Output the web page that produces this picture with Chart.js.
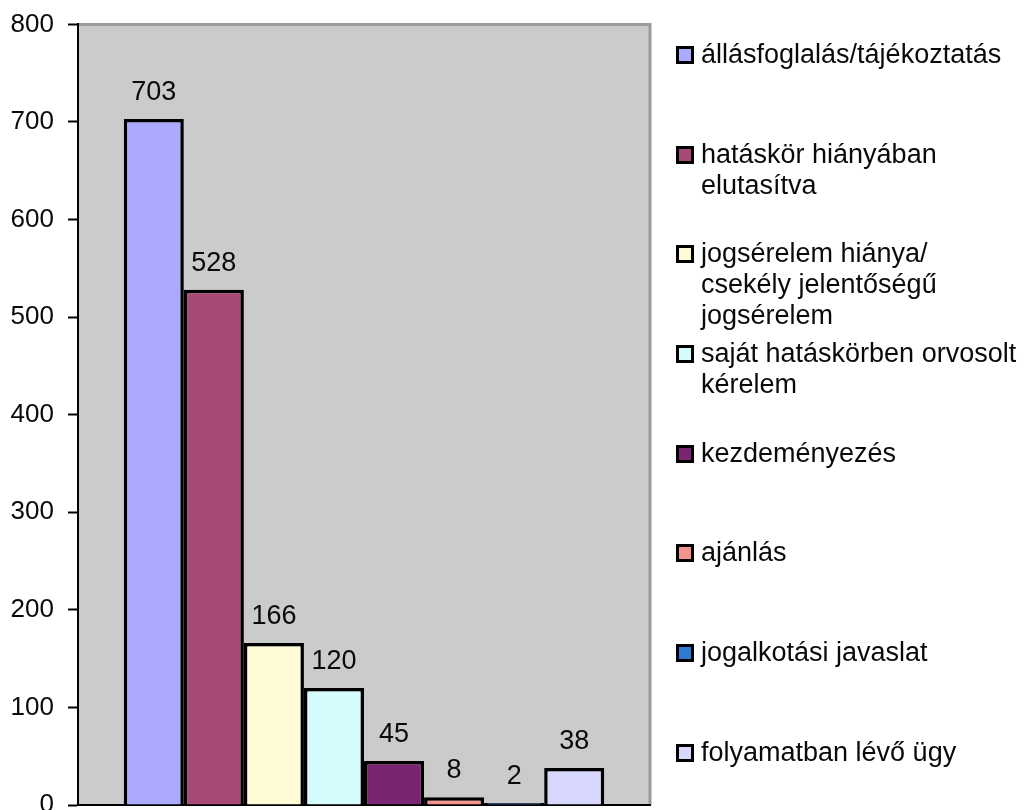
<!DOCTYPE html>
<html>
<head>
<meta charset="utf-8">
<script src="https://cdn.jsdelivr.net/npm/chart.js@4/dist/chart.umd.min.js"></script>
<style>
  html, body { margin: 0; padding: 0; background: #fff; overflow: hidden; }
  #wrap { position: relative; width: 1036px; height: 830px; }
  #legend { position: absolute; left: 676px; top: 39px; font-family: "Liberation Sans", Arial, sans-serif; font-size: 27px; color: #0a0a0a; }
  .item { position: relative; height: 99.7px; padding-left: 25px; line-height: 31px; white-space: pre; }
  .box { position: absolute; left: 0; top: 7px; width: 12px; height: 12px; border: 3px solid #000; }
</style>
</head>
<body>
<div id="wrap">
  <canvas id="chart" width="1036" height="830"></canvas>
  <div id="legend"></div>
</div>
<script>
const categories = [
  "állásfoglalás/tájékoztatás",
  "hatáskör hiányában\nelutasítva",
  "jogsérelem hiánya/\ncsekély jelentőségű\njogsérelem",
  "saját hatáskörben orvosolt\nkérelem",
  "kezdeményezés",
  "ajánlás",
  "jogalkotási javaslat",
  "folyamatban lévő ügy"
];
const values = [703, 528, 166, 120, 45, 8, 2, 38];
const colors = ["#AAAAFF", "#A84A78", "#FFFBD6", "#D4FCFC", "#7A2472", "#F2948C", "#2E7AD4", "#D8D8FF"];
const yTicks = { min: 0, max: 800, step: 100 };

(function() {
    const ctx = document.getElementById("chart");

    const plotBg = {
        id: 'plotBg',
        beforeDraw(chart) {
            const a = chart.chartArea, c = chart.ctx;
            c.save();
            c.fillStyle = '#CBCBCB';
            c.fillRect(a.left, a.top, a.right - a.left, a.bottom - a.top);
            c.strokeStyle = '#9A9A9A';
            c.lineWidth = 3;
            c.beginPath();
            c.moveTo(a.left, a.top);
            c.lineTo(a.right, a.top);
            c.lineTo(a.right, a.bottom);
            c.stroke();
            c.restore();
        }
    };

    const valueLabels = {
        id: 'valueLabels',
        afterDatasetsDraw(chart) {
            const c = chart.ctx;
            c.save();
            c.font = '27px "Liberation Sans", Arial, sans-serif';
            c.fillStyle = '#0a0a0a';
            c.textAlign = 'center';
            c.textBaseline = 'alphabetic';
            chart.data.datasets.forEach((ds, i) => {
                const bar = chart.getDatasetMeta(i).data[0];
                c.fillText(String(ds.data[0]), bar.x, bar.y - 19);
            });
            c.restore();
        }
    };

    const chart = new Chart(ctx, {
        type: 'bar',
        data: {
            labels: [''],
            datasets: categories.map((name, i) => ({
                label: name,
                data: [values[i]],
                backgroundColor: colors[i],
                borderColor: '#000',
                borderWidth: 3.5,
                borderSkipped: 'start'
            }))
        },
        options: {
            responsive: false,
            animation: false,
            events: [],
            layout: { padding: { top: 24, right: 386, bottom: 25, left: 0 } },
            plugins: {
                legend: { display: false },
                tooltip: { enabled: false },
                title: { display: false }
            },
            datasets: {
                bar: { categoryPercentage: 0.84, barPercentage: 1.0 }
            },
            scales: {
                x: {
                    ticks: { display: false },
                    grid: { display: false },
                    border: { color: '#000', width: 2 },
                    afterFit(scale) { scale.height = 0; }
                },
                y: {
                    min: yTicks.min,
                    max: yTicks.max,
                    afterFit(scale) { scale.width = 78; },
                    ticks: {
                        stepSize: yTicks.step,
                        padding: 14,
                        color: '#0a0a0a',
                        font: { family: '"Liberation Sans", Arial, sans-serif', size: 26, lineHeight: 0.8 }
                    },
                    grid: { drawOnChartArea: false, tickLength: 10, tickColor: '#000', tickWidth: 2 },
                    border: { color: '#000', width: 2 }
                }
            }
        },
        plugins: [plotBg, valueLabels]
    });

    const legend = document.getElementById('legend');
    chart.data.datasets.forEach(ds => {
        const item = document.createElement('div');
        item.className = 'item';
        const box = document.createElement('span');
        box.className = 'box';
        box.style.background = ds.backgroundColor;
        item.appendChild(box);
        item.appendChild(document.createTextNode(ds.label));
        legend.appendChild(item);
    });
})();
</script>
</body>
</html>
